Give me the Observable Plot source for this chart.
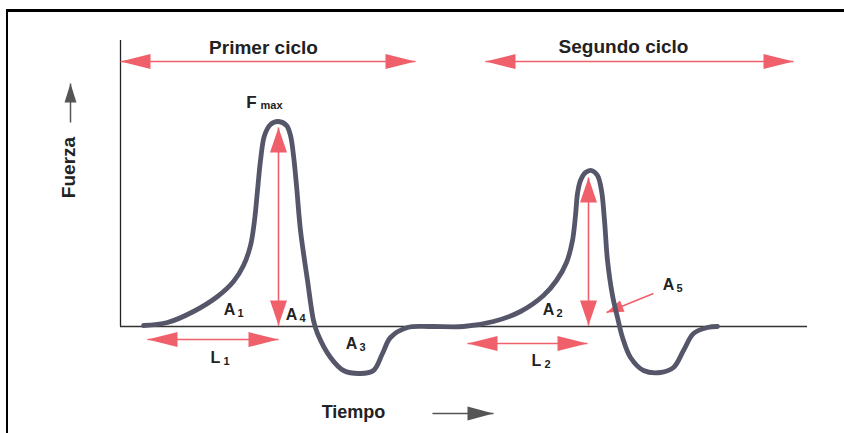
<!DOCTYPE html>
<html>
<head>
<meta charset="utf-8">
<script src="https://cdn.jsdelivr.net/npm/d3@7"></script>
<script src="https://cdn.jsdelivr.net/npm/@observablehq/plot@0.6"></script>
<style>
  html, body { margin: 0; padding: 0; background: #fff; }
  #wrap { position: relative; width: 844px; height: 433px; overflow: hidden; }
  #frame { position: absolute; left: 6px; top: 9px; right: -10px; bottom: -10px;
           border-top: 3px solid #000; border-left: 2px solid #000; pointer-events: none; }
  g[aria-label="titles"] text { letter-spacing: 1.6px; }
  g[aria-label="tiempo"] text { letter-spacing: 2px; }
  g[aria-label="fmax-sub"] text { letter-spacing: 1px; }
</style>
</head>
<body>
<div id="wrap"><div id="frame"></div></div>
<script>
// ---- Data (time units / force units) ----
const curveT = [23,47,73,97,113,123,130,134,137,140,144,150,158,166,170,173,176,180,187,193,197,210,223,240,253,262,270,287,310,343,373,400,423,436,446,452,455,457,460,465,471,477,481,484,487,492,497,502,510,523,540,553,563,573,587,597];
const curveF = [1,4,15,30,45,61,81,106,136,166,191,202,205,201,191,171,141,96,46,6,-7,-31,-44,-47,-44,-27,-11,-1,0,0,5,15,31,46,64,86,111,133,146,154,156,151,136,106,66,31,9,-11,-31,-44,-46,-41,-24,-7,-1,0];

const axisTimeEnd = 687;
const axisForceTop = 286;

// cycle span arrows
const cycleNames = ["Primer ciclo", "Segundo ciclo"];
const cycleT1 = [0, 365];
const cycleT2 = [295, 673];
const cycleF = [265, 265];
const cycleLabelT = [143, 503];
const cycleLabelF = [279, 280];

// vertical peak arrows (Fmax)
const peakT = [158, 468];
const peakTopF = [199, 149];
const peakBottomF = [1, 1];

// horizontal L arrows
const lenT1 = [27, 347];
const lenT2 = [158, 467];
const lenF = [-13, -17];

// A5 pointer
const a5From = [533, 33];
const a5To = [486, 14];

// area / length labels
const labelBase = ["A", "A", "A", "A", "A", "L", "L"];
const labelSub  = ["1", "4", "3", "2", "5", "1", "2"];
const labelT    = [109, 171, 231, 428, 548, 95, 416];
const labelF    = [17, 12, -17, 17, 42, -31, -34];

// axis titles
const timeLabel = "Tiempo";
const timeLabelT = 233, timeLabelF = -86;
const timeArrowT1 = 312, timeArrowT2 = 373, timeArrowF = -87;
const forceLabel = "Fuerza";
const forceLabelT = -52, forceLabelF = 159;
const forceArrowT = -50, forceArrowF1 = 204, forceArrowF2 = 243;

// ---- Build ----
const curve = curveT.map((t, i) => ({t, f: curveF[i]}));
const red = "#f0606b";
const gray = "#555";
const font = "Liberation Sans, Arial, sans-serif";

const head = (len, hw) => ({
  draw(ctx) { ctx.moveTo(0, 0); ctx.lineTo(hw, len); ctx.lineTo(-hw, len); ctx.closePath(); }
});

const links = [];
const heads = []; // {t, f, rot, kind}
cycleT1.forEach((_, i) => {
  links.push({t1: cycleT1[i], f1: cycleF[i], t2: cycleT2[i], f2: cycleF[i]});
  heads.push({t: cycleT1[i], f: cycleF[i], rot: -90, kind: "cycle"});
  heads.push({t: cycleT2[i], f: cycleF[i], rot: 90, kind: "cycle"});
});
peakT.forEach((t, i) => {
  links.push({t1: t, f1: peakBottomF[i], t2: t, f2: peakTopF[i]});
  heads.push({t, f: peakTopF[i], rot: 0, kind: "peak"});
  heads.push({t, f: peakBottomF[i], rot: 180, kind: "peak"});
});
lenT1.forEach((_, i) => {
  links.push({t1: lenT1[i], f1: lenF[i], t2: lenT2[i], f2: lenF[i]});
  heads.push({t: lenT1[i], f: lenF[i], rot: -90, kind: "len"});
  heads.push({t: lenT2[i], f: lenF[i], rot: 90, kind: "len"});
});
links.push({t1: a5From[0], f1: a5From[1], t2: a5To[0], f2: a5To[1]});
const a5Rot = Math.atan2(a5To[0] - a5From[0], a5To[1] - a5From[1]) * 180 / Math.PI;
heads.push({t: a5To[0], f: a5To[1], rot: a5Rot, kind: "a5"});

const labels = labelBase.map((b, i) => ({b, s: labelSub[i], t: labelT[i], f: labelF[i]}));
const cycles = cycleNames.map((n, i) => ({n, t: cycleLabelT[i], f: cycleLabelF[i]}));

const headMark = (kind, sym, fill) => Plot.dot(heads.filter(d => d.kind === kind),
  {x: "t", y: "f", rotate: "rot", symbol: sym, r: 5, fill, stroke: "none"});

const plot = Plot.plot({
  width: 844, height: 433,
  marginTop: 0, marginRight: 0, marginBottom: 0, marginLeft: 0,
  x: {domain: [-120, 724], axis: null},
  y: {domain: [-107, 326], axis: null},
  style: {background: "transparent"},
  marks: [
    // axes
    Plot.ruleX([0], {y1: 0, y2: axisForceTop, stroke: "#222", strokeWidth: 1.3}),
    Plot.ruleY([0], {x1: 0, x2: axisTimeEnd, stroke: "#333", strokeWidth: 1.5}),
    // red arrows
    Plot.link(links, {x1: "t1", y1: "f1", x2: "t2", y2: "f2", stroke: red, strokeWidth: 1.6}),
    headMark("cycle", head(30, 7.5), red),
    headMark("peak", head(25, 8.5), red),
    headMark("len", head(30, 7.5), red),
    headMark("a5", head(17, 6), red),
    // curve
    Plot.line(curve, {x: "t", y: "f", curve: "catmull-rom", stroke: "#56566a", strokeWidth: 4.8, strokeLinejoin: "round", strokeLinecap: "round"}),
    // cycle titles
    Plot.text(cycles, {x: "t", y: "f", text: "n", fontSize: 19, fontWeight: "bold", fontFamily: font, fill: "#222", ariaLabel: "titles"}),
    // Fmax
    Plot.text([{t: 131, f: 224}], {x: "t", y: "f", text: d => "F", fontSize: 17, fontWeight: "bold", fontFamily: font, fill: "#222"}),
    Plot.text([{t: 140, f: 221}], {x: "t", y: "f", text: d => "max", fontSize: 11, fontWeight: "bold", fontFamily: font, fill: "#222", textAnchor: "start", ariaLabel: "fmax-sub"}),
    // area labels
    Plot.text(labels, {x: "t", y: "f", text: "b", fontSize: 16, fontWeight: "bold", fontFamily: font, fill: "#222"}),
    Plot.text(labels, {x: "t", y: "f", text: "s", dx: 11, dy: 4, fontSize: 11, fontWeight: "bold", fontFamily: font, fill: "#222"}),
    // axis titles
    Plot.text([{t: timeLabelT, f: timeLabelF}], {x: "t", y: "f", text: d => timeLabel, fontSize: 18, fontWeight: "bold", fontFamily: font, fill: "#222", ariaLabel: "tiempo"}),
    Plot.link([{t1: timeArrowT1, t2: timeArrowT2, f: timeArrowF}], {x1: "t1", x2: "t2", y1: "f", y2: "f", stroke: gray, strokeWidth: 1.5}),
    Plot.dot([{t: timeArrowT2, f: timeArrowF}], {x: "t", y: "f", rotate: 90, symbol: head(26, 7), r: 5, fill: gray}),
    Plot.text([{t: forceLabelT, f: forceLabelF}], {x: "t", y: "f", text: d => forceLabel, rotate: -90, fontSize: 19, fontWeight: "bold", fontFamily: font, fill: "#222"}),
    Plot.link([{t: forceArrowT, f1: forceArrowF1, f2: forceArrowF2}], {x1: "t", x2: "t", y1: "f1", y2: "f2", stroke: gray, strokeWidth: 1.5}),
    Plot.dot([{t: forceArrowT, f: forceArrowF2}], {x: "t", y: "f", rotate: 0, symbol: head(19, 6), r: 5, fill: gray})
  ]
});
plot.style.position = "absolute";
plot.style.left = "0px";
plot.style.top = "0px";
document.getElementById("wrap").prepend(plot);
</script>
</body>
</html>
